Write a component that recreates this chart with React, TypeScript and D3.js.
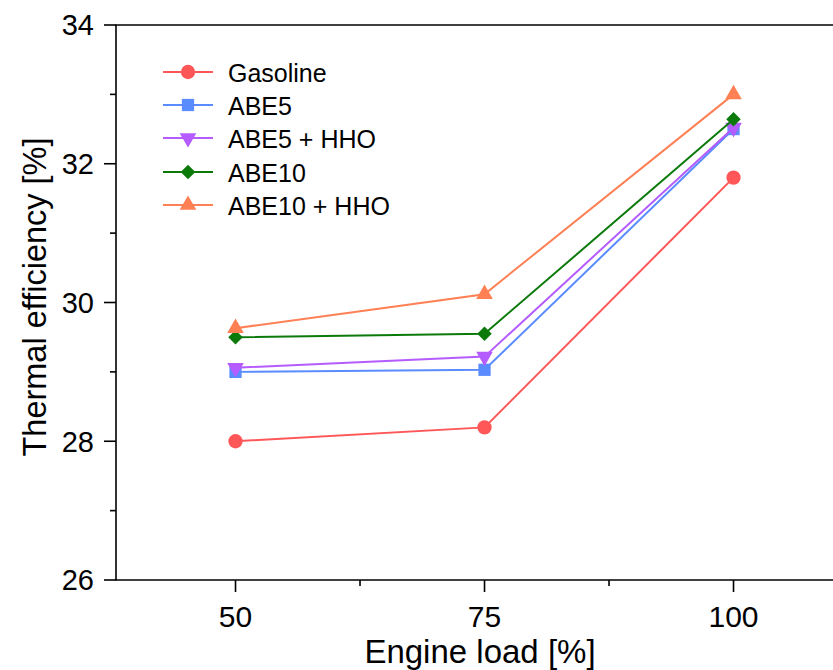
import React from "react";
import * as d3 from "d3";

const loads = [50, 75, 100];
const gasoline = [28.0, 28.2, 31.8];
const abe5 = [29.0, 29.03, 32.5];
const abe5hho = [29.06, 29.22, 32.52];
const abe10 = [29.5, 29.55, 32.64];
const abe10hho = [29.63, 30.12, 33.0];
const yTicks = [26, 28, 30, 32, 34];
const yMinor = [27, 29, 31, 33];
const xMinor = [62.5, 87.5];

const seriesNames = ["Gasoline", "ABE5", "ABE5 + HHO", "ABE10", "ABE10 + HHO"];
const seriesValues = [gasoline, abe5, abe5hho, abe10, abe10hho];
const colors = ["#FF5757", "#5A8CFF", "#B55CFF", "#0B7A0B", "#FF8055"];
const symbols = ["circle", "square", "down", "diamond", "up"];

const W = 833, H = 670;
const left = 116, top = 25, bottom = 580;

export default function App() {
  const x = d3.scaleLinear().domain([38, 112]).range([left, left + (74 / 25) * 249]);
  const y = d3.scaleLinear().domain([26, 34]).range([bottom, top]);
  const line = d3.line<number>().x((_, i) => x(loads[i])).y((d) => y(d));

  const marker = (k: number, cx: number, cy: number, key: string) => {
    const s = symbols[k];
    const c = colors[k];
    let p = "";
    let rot = 0;
    if (s === "circle") p = d3.symbol().type(d3.symbolCircle).size(160)() || "";
    else if (s === "square") p = d3.symbol().type(d3.symbolSquare).size(150)() || "";
    else if (s === "diamond") { p = d3.symbol().type(d3.symbolSquare).size(105)() || ""; rot = 45; }
    else if (s === "down") { p = d3.symbol().type(d3.symbolTriangle).size(120)() || ""; rot = 180; }
    else p = d3.symbol().type(d3.symbolTriangle).size(120)() || "";
    return <path key={key} d={p} transform={`translate(${cx},${cy}) rotate(${rot})`} fill={c} />;
  };

  const font = "'Liberation Sans', Arial, sans-serif";
  const legendY = [72, 105, 138, 172, 205];

  return (
    <svg width={W} height={H} style={{ position: "absolute", left: 0, top: 0, background: "#fff" }} fontFamily={font}>
      <rect x={0} y={0} width={W} height={H} fill="#fff" />
      <line x1={left} y1={top} x2={left} y2={bottom} stroke="#000" strokeWidth={1.6} />
      <line x1={left - 1} y1={bottom} x2={W} y2={bottom} stroke="#000" strokeWidth={1.6} />
      <line x1={left - 1} y1={top} x2={W} y2={top} stroke="#000" strokeWidth={1.6} />
      {yTicks.map((t) => (
        <g key={"yt" + t}>
          <line x1={left - 12} x2={left} y1={y(t)} y2={y(t)} stroke="#000" strokeWidth={1.6} />
          <text x={left - 22} y={y(t)} dy="0.36em" textAnchor="end" fontSize={29}>{t}</text>
        </g>
      ))}
      {yMinor.map((t) => (
        <line key={"ym" + t} x1={left - 6} x2={left} y1={y(t)} y2={y(t)} stroke="#000" strokeWidth={1.6} />
      ))}
      {loads.map((t) => (
        <g key={"xt" + t}>
          <line x1={x(t)} x2={x(t)} y1={bottom} y2={bottom + 12} stroke="#000" strokeWidth={1.6} />
          <text x={x(t)} y={627} textAnchor="middle" fontSize={30}>{t}</text>
        </g>
      ))}
      {xMinor.map((t) => (
        <line key={"xm" + t} x1={x(t)} x2={x(t)} y1={bottom} y2={bottom + 6} stroke="#000" strokeWidth={1.6} />
      ))}
      <text x={480} y={663} textAnchor="middle" fontSize={33}>Engine load [%]</text>
      <text transform={`translate(46,297) rotate(-90)`} textAnchor="middle" fontSize={32.5}>Thermal efficiency [%]</text>
      {seriesValues.map((vals, k) => (
        <g key={"s" + k}>
          <path d={line(vals) || ""} fill="none" stroke={colors[k]} strokeWidth={2} />
          {vals.map((v, i) => marker(k, x(loads[i]), y(v), `m${k}-${i}`))}
        </g>
      ))}
      {seriesNames.map((n, k) => (
        <g key={"l" + k}>
          <line x1={163} x2={213} y1={legendY[k]} y2={legendY[k]} stroke={colors[k]} strokeWidth={2} />
          {marker(k, 188, legendY[k], `lm${k}`)}
          <text x={228} y={legendY[k]} dy="0.38em" fontSize={25}>{n}</text>
        </g>
      ))}
    </svg>
  );
}
